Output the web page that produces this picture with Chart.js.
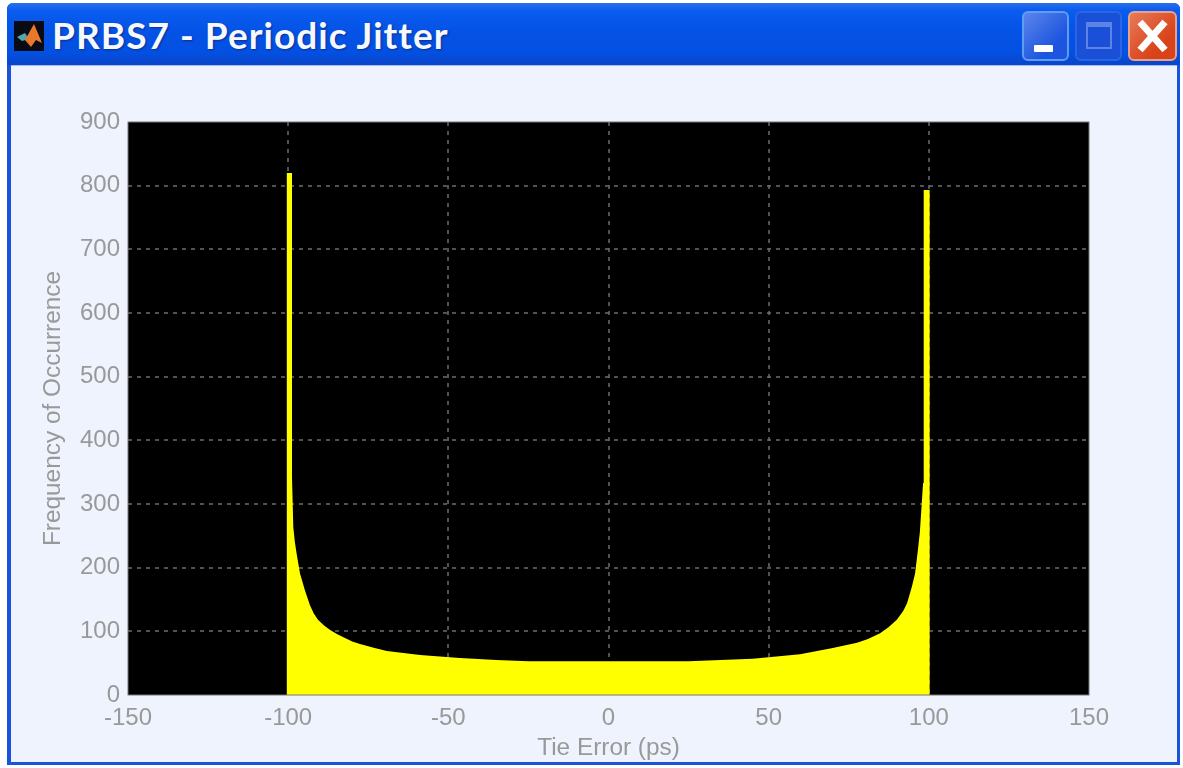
<!DOCTYPE html>
<html>
<head>
<meta charset="utf-8">
<script src="https://cdn.jsdelivr.net/npm/chart.js@4"></script>
<style>
html,body{margin:0;padding:0;background:#fff;width:1183px;height:768px;overflow:hidden}
#page{position:absolute;left:0;top:0;width:1183px;height:768px;filter:blur(0.7px)}
#win{position:absolute;left:7px;top:3px;width:1173px;height:762px;border-radius:6px 6px 0 0;background:#1a52dc;overflow:hidden}
#bar{position:absolute;left:0;top:0;right:0;height:62px;background:linear-gradient(180deg,#2a70ea 0%,#0a5cf0 12%,#0552e6 45%,#0350e2 80%,#0a45c8 100%)}
#client{position:absolute;left:4px;top:62px;right:3px;bottom:3px;background:#eef3fd;border-top:1px solid #9fbcf0}
#title{position:absolute;left:45px;top:9px;font:bold 37px "Lato",sans-serif;color:#f6f8fc;white-space:nowrap;letter-spacing:1.03px;text-shadow:1px 1px 2px #0a2f90}
#icon{position:absolute;left:7px;top:18px;width:30px;height:30px}
.btn{position:absolute;top:8px;width:47px;height:50px;border-radius:6px;box-sizing:border-box}
#min{left:1015px;background:linear-gradient(135deg,#5c86ea,#1d55e0 70%);border:2px solid #5f9df0}
#min i{position:absolute;left:10px;top:32px;width:19px;height:7px;background:#fff;border-radius:1px}
#max{left:1068px;background:#1a4fd8;border:2px solid #2a66e4}
#max i{position:absolute;left:9px;top:9px;width:26px;height:27px;box-sizing:border-box;border:2px solid #5d83e6;border-top-width:5px}
#cls{left:1121px;width:49px;background:linear-gradient(135deg,#e87a58,#d8431a 70%);border:2px solid #e8a28c}
#canvasWrap{position:absolute;left:0;top:0;width:1183px;height:768px}
</style>
</head>
<body>
<div id="page">
<div id="win">
  <div id="bar"></div>
  <div id="client"></div>
  <svg id="icon" viewBox="0 0 30 30"><rect width="30" height="30" fill="#0a0a14"/><path d="M3 16 L11 12 L15 18 L8 20Z" fill="#4fa8b0"/><path d="M11 19 L20 3 L28 22 L22 19 L17 26Z" fill="#e8792c"/></svg>
  <div id="title">PRBS7 - Periodic Jitter</div>
  <div class="btn" id="min"><i></i></div>
  <div class="btn" id="max"><i></i></div>
  <div class="btn" id="cls"><svg width="45" height="46" viewBox="0 0 45 46"><path d="M10 9 L35 37 M35 9 L10 37" stroke="#fff" stroke-width="7" stroke-linecap="butt"/></svg></div>
</div>
<div id="canvasWrap"><canvas id="c" width="1183" height="768"></canvas></div>
</div>
<script>
const xTitle = "Tie Error (ps)";
const yTitle = "Frequency of Occurrence";
const tieError = [-100.5,-100.5,-98.8,-98.8,-98.4,-97.9,-97.2,-96.3,-95.5,-94.8,-93.2,-92,-90.7,-88.8,-86.9,-84.5,-82.9,-80,-77.6,-73,-69.2,-58.8,-46.4,-35,-25,0,25,35,45,59.8,70,77.6,81,84.8,87.5,90,92,93.2,94.7,95.7,96.6,97.2,98.2,98.4,98.4,100.3,100.3];
const occurrence = [0,820,820,342,264,240,217,191,177,165,141,128,118,109,102,95,91,84,80,74,69,63,58,55,53,53,53,55,57,64,74,82,88,97,107,118,132,144,170,191,228,256,333,333,793,793,0];
const xMin = -150, xMax = 150, xStep = 50;
const yMin = 0, yMax = 900, yStep = 100;

const plotBg = {
  id:'plotBg',
  beforeDraw(ch){
    const a = ch.chartArea, g = ch.ctx;
    g.save(); g.fillStyle = '#000'; g.fillRect(a.left,a.top,a.width,a.height); g.restore();
  },
  afterDatasetsDraw(ch){
    const a = ch.chartArea, g = ch.ctx;
    g.save(); g.strokeStyle = '#777'; g.lineWidth = 1;
    g.strokeRect(a.left,a.top,a.width,a.height); g.restore();
  }
};
const grey = '#999999';
const gridCol = c => {
  const s = c.scale, v = c.tick && c.tick.value;
  return (v === s.min || v === s.max) ? 'rgba(0,0,0,0)' : 'rgba(110,110,110,0.75)';
};
const tickFont = {family:'"Liberation Sans"',size:24};
const titleFont = {family:'"Liberation Sans"',size:24.4};
new Chart(document.getElementById('c'),{
  type:'line',
  data:{datasets:[{
    data:tieError.map((x,i)=>({x,y:occurrence[i]})),
    borderColor:'#ffff00',backgroundColor:'#ffff00',borderWidth:0,pointRadius:0,fill:'origin',tension:0
  }]},
  plugins:[plotBg],
  options:{
    responsive:false,animation:false,
    layout:{padding:{left:0,top:122,right:94,bottom:0}},
    plugins:{legend:{display:false},tooltip:{enabled:false}},
    scales:{
      x:{type:'linear',min:xMin,max:xMax,
        afterFit(s){s.height=73},
        border:{display:false,dash:[4,5]},
        grid:{color:gridCol,lineWidth:2,drawTicks:false},
        ticks:{stepSize:xStep,color:grey,font:tickFont,padding:9,maxRotation:0,autoSkip:false},
        title:{display:true,text:xTitle,color:grey,font:titleFont,padding:{top:0,bottom:5}}
      },
      y:{type:'linear',min:yMin,max:yMax,
        afterFit(s){s.width=128},
        border:{display:false,dash:[4,5]},
        grid:{color:gridCol,lineWidth:2,drawTicks:false},
        ticks:{stepSize:yStep,color:grey,font:tickFont,padding:8,autoSkip:false},
        title:{display:true,text:yTitle,color:grey,font:titleFont,padding:{top:39,bottom:0}}
      }
    }
  }
});
</script>
</body>
</html>
